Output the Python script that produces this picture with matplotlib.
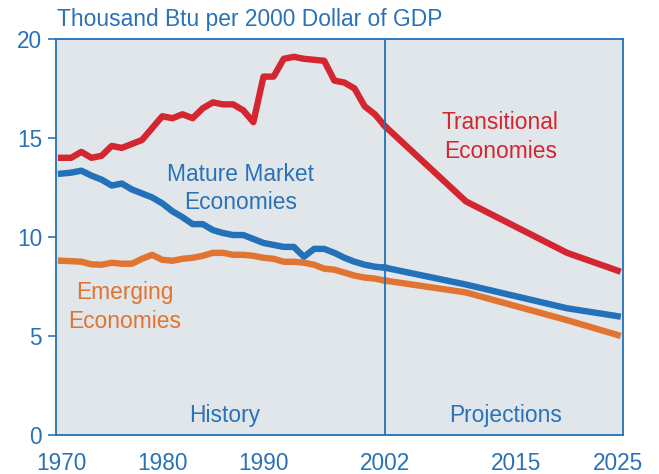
#!/usr/bin/env python3

import numpy as np
import matplotlib
matplotlib.use('Agg')
import matplotlib.pyplot as plt

plt.rcParams['font.family'] = ['Liberation Sans', 'DejaVu Sans']

# history is annual, projections at a few years
hist_years = list(range(1970, 2003))
proj_years = [2002, 2010, 2015, 2020, 2025]

transitional_hist = [14.0, 14.0, 14.3, 14.0, 14.1, 14.6, 14.5, 14.7, 14.9, 15.5,
                     16.1, 16.0, 16.2, 16.0, 16.5, 16.8, 16.7, 16.7, 16.4, 15.8,
                     18.1, 18.1, 19.0, 19.1, 19.0, 18.95, 18.9, 17.9, 17.8, 17.5,
                     16.6, 16.2, 15.6]
transitional_proj = [15.6, 11.8, 10.5, 9.2, 8.3]

mature_hist = [13.2, 13.25, 13.35, 13.1, 12.9, 12.6, 12.7, 12.4, 12.2, 12.0,
               11.7, 11.3, 11.0, 10.65, 10.65, 10.35, 10.2, 10.1, 10.1, 9.9,
               9.7, 9.6, 9.5, 9.5, 9.0, 9.4, 9.4, 9.2, 8.95, 8.75,
               8.6, 8.5, 8.45]
mature_proj = [8.45, 7.6, 7.0, 6.4, 6.0]

emerging_hist = [8.8, 8.78, 8.75, 8.62, 8.6, 8.7, 8.65, 8.65, 8.9, 9.1,
                 8.85, 8.8, 8.9, 8.95, 9.05, 9.2, 9.2, 9.1, 9.1, 9.05,
                 8.95, 8.9, 8.75, 8.75, 8.7, 8.6, 8.4, 8.35, 8.2, 8.05,
                 7.95, 7.9, 7.8]
emerging_proj = [7.8, 7.2, 6.5, 5.8, 5.05]

x_ticks = [1970, 1980, 1990, 2002, 2015, 2025]
y_ticks = [0, 5, 10, 15, 20]

blue_txt = '#2a72b8'
red = '#d42630'
blue = '#2271b9'
orange = '#e07430'
bg = '#e1e6eb'

fig = plt.figure(figsize=(6.59, 4.74), dpi=100)
ax = fig.add_axes([0.085, 0.0823, 0.86, 0.8354])
ax.set_facecolor(bg)

lw = 4.6
ax.plot(hist_years, transitional_hist, color=red, lw=lw)
ax.plot(proj_years, transitional_proj, color=red, lw=lw)
ax.plot(hist_years, mature_hist, color=blue, lw=lw)
ax.plot(proj_years, mature_proj, color=blue, lw=lw)
ax.plot(hist_years, emerging_hist, color=orange, lw=lw)
ax.plot(proj_years, emerging_proj, color=orange, lw=lw)

ax.axvline(2002, color=blue, lw=1.3)

ax.set_xlim(1969.5, 2025.5)
ax.set_ylim(0, 20)
ax.set_xticks(x_ticks)
ax.set_yticks(y_ticks)
ax.tick_params(axis='y', colors=blue_txt, labelsize=16.3, length=6, width=1.2,
               direction='out', pad=4)
ax.tick_params(axis='x', colors=blue_txt, labelsize=16.3, length=0, pad=12)
for sp in ax.spines.values():
    sp.set_color(blue)
    sp.set_linewidth(1.3)

fs = 16.4
ls = 1.32
ax.text(1987.7, 12.45, 'Mature Market\nEconomies', color=blue_txt, fontsize=fs,
        ha='center', va='center', linespacing=ls)
ax.text(2013.4, 15.05, 'Transitional\nEconomies', color=red, fontsize=fs,
        ha='center', va='center', linespacing=ls)
ax.text(1976.3, 6.45, 'Emerging\nEconomies', color=orange, fontsize=fs,
        ha='center', va='center', linespacing=ls)
ax.text(1986.2, 1.0, 'History', color=blue_txt, fontsize=fs, ha='center', va='center')
ax.text(2013.9, 1.0, 'Projections', color=blue_txt, fontsize=fs, ha='center', va='center')

fig.text(0.087, 0.958, 'Thousand Btu per 2000 Dollar of GDP', color=blue_txt,
         fontsize=16.4, ha='left', va='center')

fig.savefig('out.png', dpi=100)
